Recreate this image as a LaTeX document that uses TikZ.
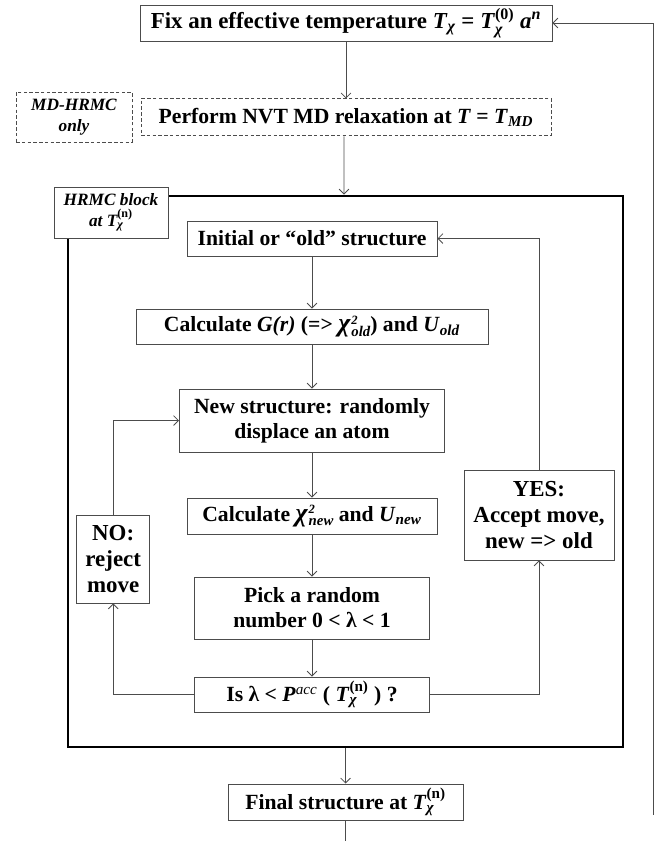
\documentclass[tikz,border=0pt]{standalone}
\usepackage{amsmath}
\usepackage{graphicx}
\usepackage{fontspec}
\setmainfont{Liberation Serif}
\usetikzlibrary{arrows.meta}

\newcommand{\Tchi}{\textit{T}\ensuremath{_{\text{\itshape χ}}}}
\newcommand{\Tchin}[1]{\textit{T}\ensuremath{^{\text{\upshape #1}}_{\text{\itshape χ}}}}
\newcommand{\chisq}[1]{\scalebox{1.2}{\textit{χ}}\kern0.5pt\rlap{\raisebox{0.75ex}{\fontsize{9}{9}\selectfont\itshape 2}}\raisebox{-0.45ex}{\fontsize{10.5}{10.5}\selectfont\itshape #1}}
\newcommand{\Usub}[1]{\textit{U}\textsubscript{\textit{#1}}}

\tikzset{
	box/.style={draw=black!70, line width=0.6pt, fill=white, align=center, inner sep=1pt,
		font=\bfseries\fontsize{15.4}{17.8}\selectfont},
	bigbox/.style={box, font=\bfseries\fontsize{16.3}{18.5}\selectfont},
	dashbox/.style={box, dash pattern=on 2.5pt off 1.6pt},
	tagbox/.style={box, font=\bfseries\itshape\fontsize{12.3}{14.5}\selectfont},
	arr/.style={-{Straight Barb[length=3.5pt,width=7pt]}, draw=black!70, line width=0.6pt},
	line/.style={draw=black!70, line width=0.6pt}
}

\begin{document}
\begin{tikzpicture}
		\useasboundingbox (0,0) rectangle (16.425,21.025);
%		\draw[help lines] (0,0) grid (16,21);
		\node[bigbox, minimum width=10.3cm, minimum height=0.9cm] (fix) at (8.65,20.45) {Fix an effective temperature \Tchi{} = \Tchin{(0)} \textit{a}\textsuperscript{\textit{n}}};
		\node[dashbox, minimum width=10.25cm, minimum height=0.925cm] (nvt) at (8.65,18.09) {Perform NVT MD relaxation at \textit{T} = \textit{T}\textsubscript{\textit{MD}}};
		\node[tagbox, dash pattern=on 2.5pt off 1.6pt, minimum width=2.9cm, minimum height=1.25cm] (mdonly) at (1.85,18.1) {MD-HRMC\\only};
		
		\node[draw, line width=2pt, inner sep=0pt, minimum width=13.875cm, minimum height=13.775cm] (block) at (8.6375,9.2375) {};
		\node[tagbox, minimum width=2.85cm, minimum height=1.275cm] (hrmc) at (2.775,15.71) {HRMC block\\at \Tchin{(n)}};
		
		\node[box, minimum width=6.25cm, minimum height=0.875cm] (init) at (7.8,15.06) {Initial or “old” structure};
		\node[box, minimum width=8.8cm, minimum height=0.875cm] (calcold) at (7.8,12.86) {Calculate \textit{G(r)} (=> \chisq{old}) and \Usub{old}};
		\node[box, minimum width=6.625cm, minimum height=1.575cm] (newstr) at (7.8,10.51) {New structure: randomly\\displace an atom};
		\node[box, minimum width=6.25cm, minimum height=0.9cm] (calcnew) at (7.8,8.125) {Calculate \chisq{new} and \Usub{new}};
		\node[box, minimum width=5.875cm, minimum height=1.55cm] (pick) at (7.8,5.825) {Pick a random\\number 0 < λ < 1};
		\node[box, minimum width=5.875cm, minimum height=0.875cm] (test) at (7.8,3.66) {Is λ < \textit{P}\textsuperscript{\textit{\mdseries acc}} ( \Tchin{(n)} ) ?};
		\node[bigbox, minimum width=1.825cm, minimum height=2.2cm] (reject) at (2.83,7.05) {NO:\\reject\\move};
		\node[bigbox, minimum width=3.75cm, minimum height=2.25cm] (accept) at (13.475,8.15) {YES:\\Accept move,\\new => old};
		
		\node[box, minimum width=5.875cm, minimum height=0.9cm] (final) at (8.64,0.975) {Final structure at \Tchin{(n)}};
		\coordinate (out) at (8.64,0);
		\coordinate (back) at (16.325,0.65);
		
		\draw[arr] (fix) -- (nvt);
		\draw[arr] (nvt.south) ++(-0.05,0) -- (block.north -| {8.6,0});
		\draw[arr] (init) -- (calcold);
		\draw[arr] (calcold) -- (newstr);
		\draw[arr] (newstr) -- (calcnew);
		\draw[arr] (calcnew) -- (pick);
		\draw[arr] (pick) -- (test);
		\draw[arr] (test.west) -| (reject.south);
		\draw[arr] (reject.north) |- (newstr.west);
		\draw[arr] (test.east) -| (accept.south);
		\draw[arr] (accept.north) |- (init.east);
		\draw[arr] (final.north |- block.south) -- (final.north);
		\draw[line] (final.south) -- (out);
		\draw[arr] (back) |- (fix.east);
	\end{tikzpicture}
\end{document}
